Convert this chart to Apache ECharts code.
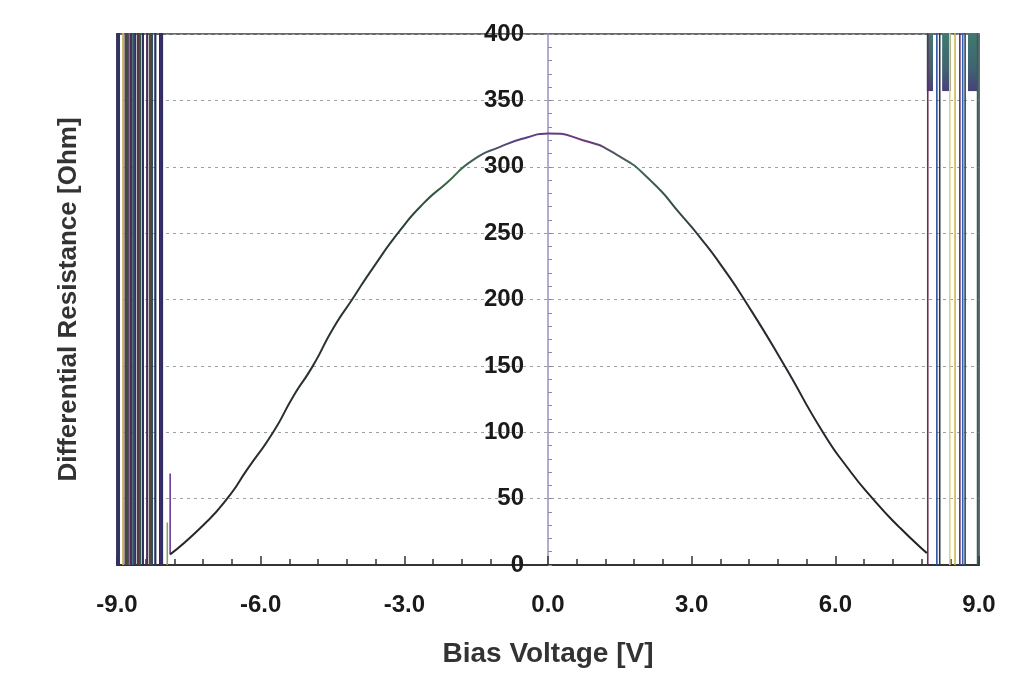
<!DOCTYPE html>
<html><head><meta charset="utf-8">
<script src="https://cdn.jsdelivr.net/npm/echarts@6/dist/echarts.min.js"></script>
<style>html,body{margin:0;padding:0;background:#fff}#c{width:1023px;height:685px}</style>
</head><body><div id="c"></div>
<script>
// ---- data ----
const curveV = [-7.89,-7.20,-6.70,-6.28,-5.74,-5.32,-4.91,-4.49,-4.09,-3.65,-3.09,-2.61,-2.11,-1.57,-1.00,-0.44,0.00,0.73,1.44,2.13,2.82,3.17,3.65,4.15,4.91,5.74,6.24,6.78,7.35,7.91];
const curveR = [8,30,50,72,100,127,150,178,200,224,252,272,288,305,315,322,325,320,309,290,262,247,224,197,152,100,74,50,28,9];

const leftSpikeV = [-8.99,-8.98,-8.97,-8.96,-8.87,-8.82,-8.81,-8.79,-8.77,-8.75,-8.73,-8.71,-8.66,-8.62,-8.56,-8.52,-8.46,-8.37,-8.31,-8.27,-8.20,-8.10,-8.08,-8.06];
const leftShortV = [-7.89,-7.95];
const leftShortLow = [8,0];
const leftShortHigh = [69,32];

const rightSpikeV = [7.93,8.12,8.18,8.39,8.50,8.60,8.66,8.71,8.97];
const spikeTop = 420;

const topBandStart = [7.91,8.23,8.77];
const topBandEnd = [8.04,8.41,8.97];
const topBandLow = 357;
const topBandHigh = 400;

const xLabelTicks = [-9,-6,-3,0,3,6,9];
const xMinorTicks = [-9,-8.4,-7.8,-7.2,-6.6,-6,-5.4,-4.8,-4.2,-3.6,-3,-2.4,-1.8,-1.2,-0.6,0,0.6,1.2,1.8,2.4,3,3.6,4.2,4.8,5.4,6,6.6,7.2,7.8,8.4,9];
const yLabelTicks = [0,50,100,150,200,250,300,350,400];
const yMinorTicks = [0,10,20,30,40,50,60,70,80,90,100,110,120,130,140,150,160,170,180,190,200,210,220,230,240,250,260,270,280,290,300,310,320,330,340,350,360,370,380,390,400];

// ---- styles ----
const leftColors = ['#2e2a5c','#3b2f6b','#35305e','#2d3566','#c8b060','#4a3470','#5b3a7a','#3e4a30','#5a3f7a','#4a3a6a','#b08a40','#4a2a5a','#2a5a50','#2d3566','#6a3040','#2f5a4a','#2b2d5a','#4a3060','#5a4a2a','#2a4f5f','#2d3060','#2f2a58','#3b2f6b','#2d3060'];
const rightColors = ['#6a2a5a','#3050a0','#2c3a48','#e0d080','#d0b850','#5a3080','#3060b0','#2f4a5a','#2f5f5f'];
const fontFam = '"Liberation Sans", Arial, sans-serif';

const series = [];
leftSpikeV.forEach((v,i)=>series.push({type:'line',xAxisIndex:0,symbol:'none',silent:true,animation:false,
  data:[[v,0],[v,spikeTop]],lineStyle:{color:leftColors[i%leftColors.length],width:2.2}}));
leftShortV.forEach((v,i)=>series.push({type:'line',xAxisIndex:0,symbol:'none',silent:true,animation:false,
  data:[[v,leftShortLow[i]],[v,leftShortHigh[i]]],lineStyle:{color:i===0?'#6a3a9a':'#8aa070',width:1.6}}));
rightSpikeV.forEach((v,i)=>series.push({type:'line',xAxisIndex:0,symbol:'none',silent:true,animation:false,
  data:[[v,0],[v,spikeTop]],lineStyle:{color:rightColors[i%rightColors.length],width:1.6}}));
series.push({type:'line',xAxisIndex:0,symbol:'none',silent:true,animation:false,data:[],
  markArea:{silent:true,itemStyle:{color:{type:'linear',x:0,y:0,x2:0,y2:1,colorStops:[{offset:0,color:'#3f7a70'},{offset:0.6,color:'#3f6470'},{offset:1,color:'#48407a'}]}},
    data:topBandStart.map((s,i)=>[{coord:[s,topBandLow]},{coord:[topBandEnd[i],topBandHigh]}])}});
series.push({type:'line',xAxisIndex:0,symbol:'none',silent:true,animation:false,smooth:0.6,
  data:curveV.map((v,i)=>[v,curveR[i]]),
  lineStyle:{width:2,color:{type:'linear',x:0,y:0,x2:1,y2:0,colorStops:[
    {offset:0,color:'#262626'},{offset:0.3,color:'#2b3a30'},{offset:0.38,color:'#3c6a48'},
    {offset:0.46,color:'#5a3f86'},{offset:0.55,color:'#6a3b7a'},{offset:0.62,color:'#3c6a50'},
    {offset:0.72,color:'#2a2a35'},{offset:1,color:'#222'}]}}});

const chart = echarts.init(document.getElementById('c'),null,{renderer:'canvas'});
chart.setOption({
  backgroundColor:'#ffffff',
  animation:false,
  grid:{left:117,right:44,top:34,bottom:120,containLabel:false,outerBoundsMode:'none',show:true,borderColor:'#3a3a3a',borderWidth:1.5},
  xAxis:[{
    type:'value',min:-9,max:9,position:'bottom',
    axisLine:{onZero:true,lineStyle:{color:'#333',width:2}},
    axisTick:{inside:true,length:6,customValues:xMinorTicks,lineStyle:{color:'#333',width:1.5}},
    axisLabel:{customValues:xLabelTicks,formatter:v=>v.toFixed(1),fontSize:24,fontWeight:'bold',color:'#1a1a1a',margin:28,fontFamily:fontFam},
    splitLine:{show:false},
    name:'Bias Voltage [V]',nameLocation:'middle',nameGap:75,
    nameTextStyle:{fontSize:28,fontWeight:'bold',color:'#333',fontFamily:fontFam}
  },{
    type:'value',min:-9,max:9,position:'bottom',
    axisLine:{show:false},
    axisTick:{inside:true,length:9,customValues:xLabelTicks,lineStyle:{color:'#333',width:1.5}},
    axisLabel:{show:false},splitLine:{show:false}
  }],
  yAxis:[{
    type:'value',min:0,max:400,interval:50,position:'left',offset:-431,
    axisLine:{onZero:false,lineStyle:{color:'#9c8fc4',width:1.5}},
    axisTick:{inside:true,length:4,customValues:yMinorTicks,lineStyle:{color:'#8a8aa0',width:1}},
    axisLabel:{customValues:yLabelTicks,fontSize:24,fontWeight:'bold',color:'#1a1a1a',margin:24,fontFamily:fontFam},
    splitLine:{show:false},
    name:'Differential Resistance [Ohm]',nameLocation:'middle',nameGap:466,
    nameTextStyle:{fontSize:26,fontWeight:'bold',color:'#333',fontFamily:fontFam}
  },{
    type:'value',min:0,max:400,interval:50,position:'left',
    axisLine:{show:false,onZero:false},axisTick:{show:false},axisLabel:{show:false},
    splitLine:{show:true,lineStyle:{color:'#9aa0a8',type:[3,4],width:1}}
  }],
  series:series
});
</script></body></html>
